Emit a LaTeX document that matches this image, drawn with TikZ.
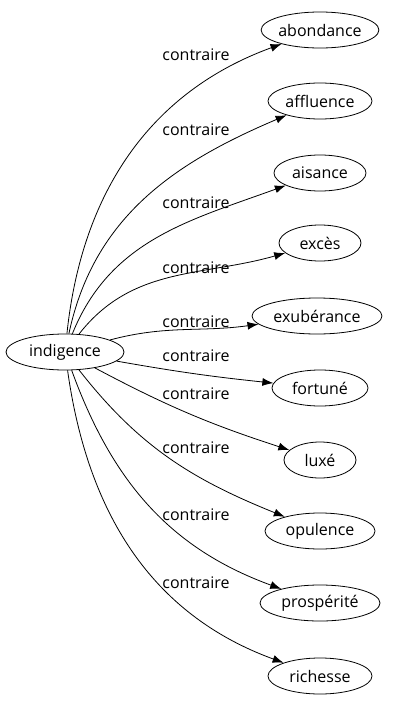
\documentclass[tikz,border=0pt]{standalone}
\usepackage{fontspec}
\setmainfont{Open Sans}
\usetikzlibrary{arrows.meta,shapes.geometric}
\begin{document}
\begin{tikzpicture}[x=1pt,y=-1pt,
  every node/.style={font=\fontsize{16}{18}\selectfont},
  term/.style={draw,ellipse,inner sep=0pt,minimum height=36pt,line width=0.8pt},
  lbl/.style={inner sep=0pt},
  edge/.style={-{Latex[length=11pt,width=8pt]},line width=0.8pt}]
\useasboundingbox (0,0) rectangle (403,707);
\node[term,minimum width=118pt] (src) at (65,352) {indigence};
\node[term,minimum width=114pt] (t1) at (320,30) {abondance};
\node[term,minimum width=104pt] (t2) at (320,101) {affluence};
\node[term,minimum width=92pt] (t3) at (320,173) {aisance};
\node[term,minimum width=82pt] (t4) at (320,243) {excès};
\node[term,minimum width=130pt] (t5) at (317,316) {exubérance};
\node[term,minimum width=96pt] (t6) at (320,388) {fortuné};
\node[term,minimum width=72pt] (t7) at (320,460) {luxé};
\node[term,minimum width=110pt] (t8) at (320,531) {opulence};
\node[term,minimum width=120pt] (t9) at (320,603) {prospérité};
\node[term,minimum width=104pt] (t10) at (320,676) {richesse};
\draw[edge] (src) to[out=84,in=200] (t1);
\draw[edge] (src) to[out=78,in=203] (t2);
\draw[edge] (src) to[out=68,in=200] (t3);
\draw[edge] (src) to[out=52,in=196] (t4);
\draw[edge] (src) to[out=15,in=188] (t5);
\draw[edge] (src) to[out=-10,in=174] (t6);
\draw[edge] (src) to[out=-28,in=162] (t7);
\draw[edge] (src) to[out=-52,in=158] (t8);
\draw[edge] (src) to[out=-70,in=160] (t9);
\draw[edge] (src) to[out=-82,in=160] (t10);
\node[lbl] (l1) at (196,55) {contraire};
\node[lbl] (l2) at (196,130) {contraire};
\node[lbl] (l3) at (196,203) {contraire};
\node[lbl] (l4) at (196,268) {contraire};
\node[lbl] (l5) at (196,322) {contraire};
\node[lbl] (l6) at (196,356) {contraire};
\node[lbl] (l7) at (196,394) {contraire};
\node[lbl] (l8) at (196,448) {contraire};
\node[lbl] (l9) at (196,515) {contraire};
\node[lbl] (l10) at (196,583) {contraire};
\end{tikzpicture}
\end{document}
